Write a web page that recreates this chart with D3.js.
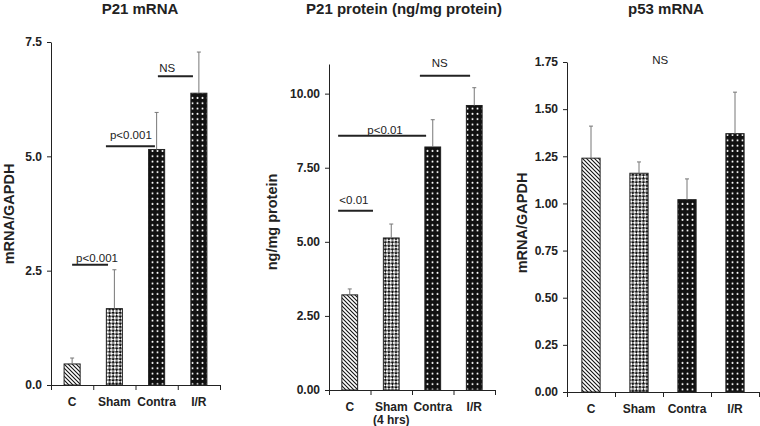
<!DOCTYPE html>
<html><head><meta charset="utf-8">
<script src="https://cdn.jsdelivr.net/npm/d3@7"></script>
<style>
html,body{margin:0;padding:0;background:#fff;}
svg{display:block;font-family:"Liberation Sans",Arial,sans-serif;}
</style></head>
<body>
<script>
// ---- data ----
const categories = ["C", "Sham", "Contra", "I/R"];
const categoriesP2 = ["C", "Sham\n(4 hrs)", "Contra", "I/R"];
const patterns = ["hatch", "check", "dots", "dots"];

const p21mRNA = [0.46, 1.67, 5.15, 6.38];
const p21mRNAErr = [0.13, 0.85, 0.81, 0.90];
const p21mRNATicks = [0, 2.5, 5.0, 7.5];

const p21Protein = [3.21, 5.13, 8.2, 9.6];
const p21ProteinErr = [0.2, 0.47, 0.92, 0.6];
const p21ProteinTicks = [0, 2.5, 5.0, 7.5, 10.0];

const p53mRNA = [1.24, 1.16, 1.02, 1.37];
const p53mRNAErr = [0.17, 0.06, 0.11, 0.22];
const p53mRNATicks = [0, 0.25, 0.5, 0.75, 1.0, 1.25, 1.5, 1.75];

// significance annotations: line from/to in category-index units, y in data units
const sigP21mRNA = [
  {label: "p<0.001", from: 0, to: 0.85, y: 2.63, tx: 0.59, ty: 2.70},
  {label: "p<0.001", from: 0.80, to: 1.96, y: 5.22, tx: 1.39, ty: 5.37},
  {label: "NS", from: 2.03, to: 2.86, y: 6.75, tx: 2.25, ty: 6.84}
];
const sigP21Protein = [
  {label: "<0.01", from: -0.28, to: 0.56, y: 6.05, tx: 0.10, ty: 6.28},
  {label: "p<0.01", from: -0.28, to: 1.84, y: 8.58, tx: 0.85, ty: 8.65},
  {label: "NS", from: 1.69, to: 2.90, y: 10.6, tx: 2.17, ty: 10.9}
];
const sigP53mRNA = [
  {label: "NS", from: null, to: null, y: null, tx: 1.44, ty: 1.74}
];

// ---- layout ----
const W = 760, H = 426;
const svg = d3.select("body").append("svg").attr("width", W).attr("height", H);
const defs = svg.append("defs");

// hatch pattern
const ph = defs.append("pattern").attr("id", "hatch").attr("patternUnits", "userSpaceOnUse")
  .attr("width", 4).attr("height", 4);
ph.append("rect").attr("width", 4).attr("height", 4).attr("fill", "#fff");
ph.append("path").attr("d", "M-1,-1 L5,5 M3,-1 L5,1 M-1,3 L1,5")
  .attr("stroke", "#111").attr("stroke-width", 1.1);
// checker pattern
const pc = defs.append("pattern").attr("id", "check").attr("patternUnits", "userSpaceOnUse")
  .attr("width", 5).attr("height", 5).attr("patternTransform", "rotate(45)");
pc.append("rect").attr("width", 5).attr("height", 5).attr("fill", "#fff");
pc.append("rect").attr("width", 2.5).attr("height", 2.5).attr("fill", "#111");
pc.append("rect").attr("x", 2.5).attr("y", 2.5).attr("width", 2.5).attr("height", 2.5).attr("fill", "#111");
// dots pattern
const pd = defs.append("pattern").attr("id", "dots").attr("patternUnits", "userSpaceOnUse")
  .attr("width", 5).attr("height", 5.3);
pd.append("rect").attr("width", 5).attr("height", 5.3).attr("fill", "#111");
pd.append("circle").attr("cx", 2.5).attr("cy", 2.6).attr("r", 1).attr("fill", "#fff");

const textColor = "#222";

function drawPanel(o) {
  const g = svg.append("g");
  const x = d3.scaleBand().domain(d3.range(o.values.length)).range([o.x0, o.x1]).paddingInner(0.62).paddingOuter(0.31);
  const step = (o.x1 - o.x0) / o.values.length;
  const idx = d3.scaleLinear().domain([0, o.values.length - 1])
    .range([o.x0 + step / 2, o.x1 - step / 2]);
  const y = d3.scaleLinear().domain([0, o.yMax]).range([o.y0, o.yTop]);

  // title
  g.append("text").attr("x", o.titleX).attr("y", 14).attr("text-anchor", "middle")
    .attr("font-size", 15).attr("font-weight", "bold").attr("fill", textColor).text(o.title);

  // y axis
  const ya = g.append("g").attr("transform", `translate(${o.x0},0)`)
    .call(d3.axisLeft(y).tickValues(o.ticks).tickFormat(d3.format(o.fmt)).tickSize(4).tickSizeOuter(0).tickPadding(5));
  ya.selectAll("path,line").attr("stroke", "#222");
  ya.selectAll("text").attr("font-size", 12).attr("font-weight", "bold").attr("fill", textColor)
    .attr("font-family", "Liberation Sans, Arial, sans-serif");

  // x axis (ticks at band edges)
  const xb = d3.scaleLinear().domain([0, o.values.length]).range([o.x0, o.x1]);
  const xa = g.append("g").attr("transform", `translate(0,${o.y0})`)
    .call(d3.axisBottom(xb).tickValues(d3.range(o.values.length + 1)).tickFormat("").tickSize(5).tickSizeOuter(0));
  xa.selectAll("path,line").attr("stroke", "#222");

  // x labels
  o.cats.forEach((c, i) => {
    const t = g.append("text").attr("x", idx(i)).attr("y", o.y0 + 21).attr("text-anchor", "middle")
      .attr("font-size", 12).attr("font-weight", "bold").attr("fill", textColor);
    c.split("\n").forEach((line, j) => {
      t.append("tspan").attr("x", idx(i)).attr("dy", j === 0 ? 0 : 12.5).text(line);
    });
  });

  // y label
  g.append("text").attr("transform", `translate(${o.ylabX},${o.ylabY}) rotate(-90)`)
    .attr("text-anchor", "middle").attr("font-size", 14.5).attr("font-weight", "bold")
    .attr("fill", textColor).text(o.ylabel);

  // bars
  g.selectAll("rect.bar").data(o.values).join("rect").attr("class", "bar")
    .attr("x", (d, i) => x(i)).attr("width", x.bandwidth())
    .attr("y", d => y(d)).attr("height", d => y(0) - y(d))
    .attr("fill", (d, i) => `url(#${patterns[i]})`)
    .attr("stroke", "#222").attr("stroke-width", 1);

  // error bars
  o.values.forEach((v, i) => {
    const cx = x(i) + x.bandwidth() / 2;
    g.append("line").attr("x1", cx).attr("x2", cx).attr("y1", y(v)).attr("y2", y(v + o.errs[i]))
      .attr("stroke", "#777").attr("stroke-width", 1);
    g.append("line").attr("x1", cx - 2).attr("x2", cx + 2).attr("y1", y(v + o.errs[i])).attr("y2", y(v + o.errs[i]))
      .attr("stroke", "#777").attr("stroke-width", 1);
  });

  // significance
  o.sig.forEach(s => {
    if (s.from !== null) {
      g.append("line").attr("x1", idx(s.from)).attr("x2", idx(s.to)).attr("y1", y(s.y)).attr("y2", y(s.y))
        .attr("stroke", "#222").attr("stroke-width", 2);
    }
    g.append("text").attr("x", idx(s.tx)).attr("y", y(s.ty)).attr("text-anchor", "middle")
      .attr("font-size", 11.5).attr("fill", textColor).text(s.label);
  });
}

drawPanel({values: p21mRNA, errs: p21mRNAErr, ticks: p21mRNATicks, fmt: ".1f", yMax: 7.5,
  cats: categories, sig: sigP21mRNA, title: "P21 mRNA", ylabel: "mRNA/GAPDH",
  x0: 51, x1: 220, y0: 385, yTop: 42, titleX: 140, ylabX: 14, ylabY: 214});

drawPanel({values: p21Protein, errs: p21ProteinErr, ticks: p21ProteinTicks, fmt: ".2f", yMax: 11,
  cats: categoriesP2, sig: sigP21Protein, title: "P21 protein (ng/mg protein)", ylabel: "ng/mg protein",
  x0: 329, x1: 495, y0: 390, yTop: 64, titleX: 404, ylabX: 277, ylabY: 222});

drawPanel({values: p53mRNA, errs: p53mRNAErr, ticks: p53mRNATicks, fmt: ".2f", yMax: 1.75,
  cats: categories, sig: sigP53mRNA, title: "p53 mRNA", ylabel: "mRNA/GAPDH",
  x0: 567, x1: 759, y0: 392, yTop: 62, titleX: 666, ylabX: 527, ylabY: 223});
</script>
</body></html>
